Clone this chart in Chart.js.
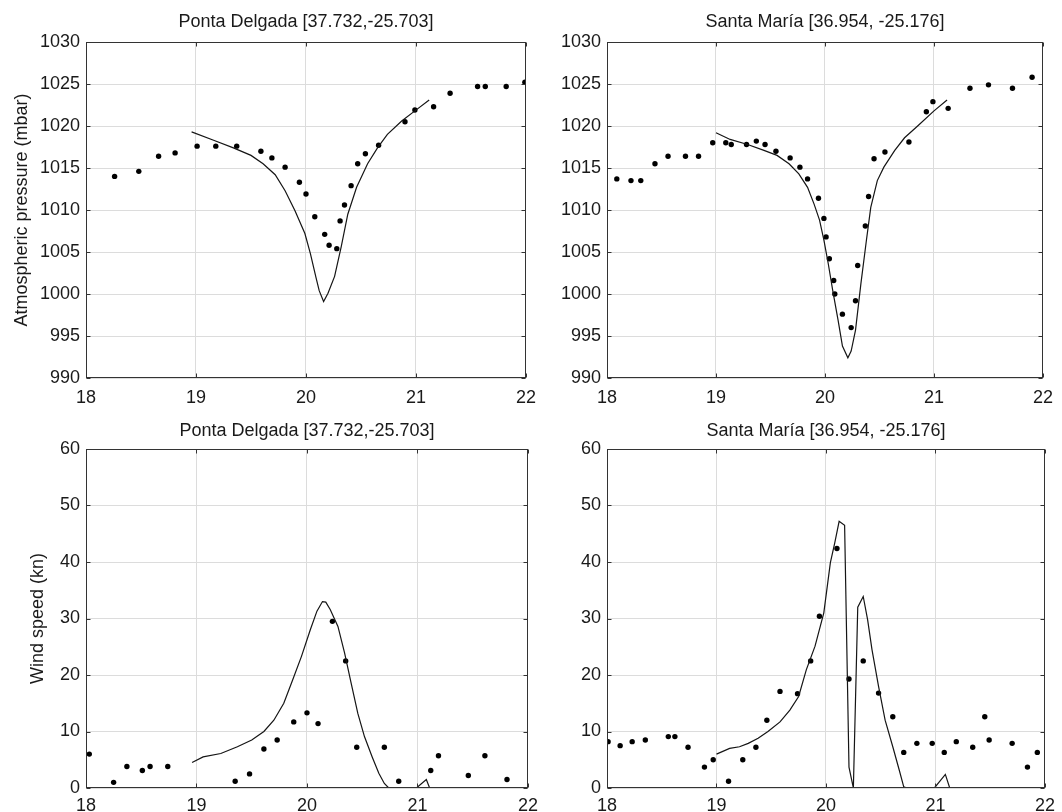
<!DOCTYPE html>
<html>
<head>
<meta charset="utf-8">
<title>Pressure and wind, Ponta Delgada / Santa María</title>
<script src="https://cdn.jsdelivr.net/npm/chart.js@4/dist/chart.umd.min.js"></script>
<style>
  body { margin: 0; background: #fff; }
  #wrap { position: relative; width: 1062px; height: 812px; overflow: hidden; }
  #wrap canvas { position: absolute; }
</style>
</head>
<body>
<div id="wrap">
  <canvas id="pdPress" width="545" height="406" style="left:0;top:0"></canvas>
  <canvas id="smPress" width="531" height="406" style="left:531px;top:0"></canvas>
  <canvas id="pdWind" width="545" height="406" style="left:0;top:406px"></canvas>
  <canvas id="smWind" width="531" height="406" style="left:531px;top:406px"></canvas>
</div>
<script>
// axes
const xTicks = [18, 19, 20, 21, 22];
const pressTicks = [990, 995, 1000, 1005, 1010, 1015, 1020, 1025, 1030];
const windTicks = [0, 10, 20, 30, 40, 50, 60];
const titlePD = 'Ponta Delgada [37.732,-25.703]';
const titleSM = 'Santa María [36.954, -25.176]';
const pressLabel = 'Atmospheric pressure (mbar)';
const windLabel = 'Wind speed (kn)';

// Ponta Delgada pressure: observed (dots) and model (line)
const pdPressObsT = [18.26, 18.48, 18.66, 18.81, 19.01, 19.18, 19.37, 19.59, 19.69, 19.81, 19.94, 20.0, 20.08, 20.17, 20.21, 20.28, 20.31, 20.35, 20.41, 20.47, 20.54, 20.66, 20.9, 20.99, 21.16, 21.31, 21.56, 21.63, 21.82, 21.99];
const pdPressObs = [1014.0, 1014.6, 1016.4, 1016.8, 1017.6, 1017.6, 1017.6, 1017.0, 1016.2, 1015.1, 1013.3, 1011.9, 1009.2, 1007.1, 1005.8, 1005.4, 1008.7, 1010.6, 1012.9, 1015.5, 1016.7, 1017.7, 1020.5, 1021.9, 1022.3, 1023.9, 1024.7, 1024.7, 1024.7, 1025.2];
const pdPressModT = [18.96, 19.16, 19.34, 19.5, 19.61, 19.72, 19.81, 19.9, 19.99, 20.04, 20.09, 20.12, 20.16, 20.2, 20.26, 20.32, 20.38, 20.46, 20.56, 20.65, 20.74, 20.87, 20.99, 21.12];
const pdPressMod = [1019.3, 1018.3, 1017.4, 1016.5, 1015.5, 1014.2, 1012.3, 1009.9, 1007.2, 1004.8, 1002.0, 1000.4, 999.1, 1000.1, 1002.1, 1005.6, 1009.5, 1012.7, 1015.5, 1017.4, 1019.0, 1020.6, 1021.8, 1023.1];

// Santa María pressure
const smPressObsT = [18.09, 18.22, 18.31, 18.44, 18.56, 18.72, 18.84, 18.97, 19.09, 19.14, 19.28, 19.37, 19.45, 19.55, 19.68, 19.77, 19.84, 19.94, 19.99, 20.01, 20.04, 20.08, 20.09, 20.16, 20.24, 20.28, 20.3, 20.37, 20.4, 20.45, 20.55, 20.77, 20.93, 20.99, 21.13, 21.33, 21.5, 21.72, 21.9];
const smPressObs = [1013.7, 1013.5, 1013.5, 1015.5, 1016.4, 1016.4, 1016.4, 1018.0, 1018.0, 1017.8, 1017.8, 1018.2, 1017.8, 1017.0, 1016.2, 1015.1, 1013.7, 1011.4, 1009.0, 1006.8, 1004.2, 1001.6, 1000.0, 997.6, 996.0, 999.2, 1003.4, 1008.1, 1011.6, 1016.1, 1016.9, 1018.1, 1021.7, 1022.9, 1022.1, 1024.5, 1024.9, 1024.5, 1025.8];
const smPressModT = [19.0, 19.13, 19.29, 19.44, 19.56, 19.67, 19.76, 19.84, 19.9, 19.95, 19.99, 20.03, 20.07, 20.12, 20.16, 20.21, 20.24, 20.28, 20.33, 20.38, 20.42, 20.48, 20.54, 20.64, 20.73, 20.85, 21.0, 21.12];
const smPressMod = [1019.2, 1018.4, 1017.8, 1017.1, 1016.5, 1015.5, 1014.3, 1012.7, 1010.7, 1008.8, 1006.4, 1003.6, 1000.5, 996.9, 993.8, 992.4, 993.2, 995.7, 1001.3, 1006.4, 1010.3, 1013.5, 1015.1, 1017.1, 1018.6, 1020.0, 1021.8, 1023.1];

// Ponta Delgada wind
const pdWindObsT = [18.03, 18.25, 18.37, 18.51, 18.58, 18.74, 19.35, 19.48, 19.61, 19.73, 19.88, 20.0, 20.1, 20.23, 20.35, 20.45, 20.7, 20.83, 21.12, 21.19, 21.46, 21.61, 21.81];
const pdWindObs = [6.0, 1.0, 3.8, 3.1, 3.8, 3.8, 1.2, 2.5, 6.9, 8.5, 11.7, 13.3, 11.4, 29.5, 22.5, 7.2, 7.2, 1.2, 3.1, 5.7, 2.2, 5.7, 1.5];
const pdWindModT = [18.96, 19.06, 19.22, 19.37, 19.5, 19.61, 19.7, 19.79, 19.87, 19.95, 20.03, 20.09, 20.14, 20.17, 20.21, 20.28, 20.34, 20.4, 20.46, 20.52, 20.59, 20.65, 20.7, 20.74, 20.99, 21.08, 21.11];
const pdWindMod = [4.5, 5.5, 6.1, 7.3, 8.5, 10.0, 12.0, 15.0, 19.1, 23.3, 28.0, 31.3, 33.0, 32.9, 31.6, 28.6, 23.9, 18.5, 13.2, 9.1, 5.5, 2.6, 0.8, 0, 0, 1.5, 0];

// Santa María wind
const smWindObsT = [18.01, 18.12, 18.23, 18.35, 18.56, 18.62, 18.74, 18.89, 18.97, 19.11, 19.24, 19.36, 19.46, 19.58, 19.74, 19.86, 19.94, 20.1, 20.21, 20.34, 20.48, 20.61, 20.71, 20.83, 20.97, 21.08, 21.19, 21.34, 21.45, 21.49, 21.7, 21.84, 21.93];
const smWindObs = [8.2, 7.5, 8.2, 8.5, 9.1, 9.1, 7.2, 3.7, 5.0, 1.2, 5.0, 7.2, 12.0, 17.1, 16.7, 22.5, 30.4, 42.4, 19.3, 22.5, 16.8, 12.6, 6.3, 7.9, 7.9, 6.3, 8.2, 7.2, 12.6, 8.5, 7.9, 3.7, 6.3];
const smWindModT = [19.0, 19.12, 19.21, 19.29, 19.38, 19.47, 19.58, 19.67, 19.75, 19.82, 19.9, 19.98, 20.04, 20.08, 20.12, 20.17, 20.21, 20.25, 20.29, 20.34, 20.38, 20.42, 20.48, 20.54, 20.61, 20.67, 20.71, 20.74, 20.99, 21.09, 21.13];
const smWindMod = [6.0, 7.0, 7.3, 7.9, 8.8, 10.0, 11.7, 13.8, 16.2, 20.9, 25.1, 31.0, 39.9, 43.4, 47.2, 46.5, 3.7, 0, 32.0, 33.9, 29.8, 24.5, 18.0, 12.0, 7.3, 3.1, 0.2, 0, 0, 2.4, 0];

const FONT = 'Helvetica, Arial, "Liberation Sans", sans-serif';
const TEXT = '#1a1a1a';

function toXY(xs, ys) {
  return xs.map((x, i) => ({ x: x, y: ys[i] }));
}

// closed box round the plot area with small inward tick marks on all sides
const frameBox = {
  id: 'frameBox',
  afterDraw(chart) {
    const { ctx, chartArea: a, scales } = chart;
    const L = Math.round(a.left) + 0.5, R = Math.round(a.right) - 0.5;
    const T = Math.round(a.top) + 0.5, B = Math.round(a.bottom) - 0.5;
    ctx.save();
    ctx.strokeStyle = '#333';
    ctx.lineWidth = 1;
    ctx.strokeRect(L, T, R - L, B - T);
    ctx.beginPath();
    scales.x.ticks.forEach(t => {
      const px = Math.round(scales.x.getPixelForValue(t.value)) + 0.5;
      ctx.moveTo(px, B); ctx.lineTo(px, B - 4);
      ctx.moveTo(px, T); ctx.lineTo(px, T + 4);
    });
    scales.y.ticks.forEach(t => {
      const py = Math.round(scales.y.getPixelForValue(t.value)) + 0.5;
      ctx.moveTo(L, py); ctx.lineTo(L + 4, py);
      ctx.moveTo(R, py); ctx.lineTo(R - 4, py);
    });
    ctx.stroke();
    ctx.restore();
  }
};

// plain numbers, no thousands separator
const plain = v => String(v);

function makePanel(id, p) {
  return new Chart(document.getElementById(id), {
    type: 'scatter',
    data: {
      datasets: [
        {
          data: toXY(p.modT, p.mod),
          showLine: true,
          borderColor: '#151515',
          borderWidth: 1.2,
          pointRadius: 0,
          tension: 0
        },
        {
          data: toXY(p.obsT, p.obs),
          backgroundColor: '#000',
          borderWidth: 0,
          pointRadius: 2.7
        }
      ]
    },
    options: {
      responsive: false,
      animation: false,
      events: [],
      layout: { padding: { left: 0, top: 0, right: p.padRight, bottom: 0 } },
      plugins: {
        legend: { display: false },
        tooltip: { enabled: false },
        title: {
          display: true,
          fullSize: false,
          text: p.title,
          color: TEXT,
          font: { family: FONT, size: 18, weight: 'normal' },
          padding: { top: p.titleTop, bottom: p.titleBottom }
        }
      },
      scales: {
        x: {
          type: 'linear',
          min: 18,
          max: 22,
          afterBuildTicks: s => { s.ticks = xTicks.map(v => ({ value: v })); },
          afterFit: s => { s.height = p.xHeight; },
          grid: { color: '#dcdcdc', lineWidth: 1, drawTicks: false },
          border: { display: false },
          ticks: { padding: p.xPad, color: TEXT, font: { family: FONT, size: 18 }, maxRotation: 0, callback: plain }
        },
        y: {
          type: 'linear',
          min: p.yTicks[0],
          max: p.yTicks[p.yTicks.length - 1],
          afterBuildTicks: s => { s.ticks = p.yTicks.map(v => ({ value: v })); },
          afterFit: s => { s.width = p.yWidth; },
          grid: { color: '#dcdcdc', lineWidth: 1, drawTicks: false },
          border: { display: false },
          ticks: { padding: 6, color: TEXT, font: { family: FONT, size: 18 }, callback: plain },
          title: {
            display: !!p.yLabel,
            text: p.yLabel || '',
            color: TEXT,
            font: { family: FONT, size: 18 },
            padding: { top: p.yLabelPad || 0, bottom: 0 }
          }
        }
      }
    },
    plugins: [frameBox]
  });
}

makePanel('pdPress', {
  title: titlePD, yLabel: pressLabel, yLabelPad: 11, yTicks: pressTicks,
  obsT: pdPressObsT, obs: pdPressObs, modT: pdPressModT, mod: pdPressMod,
  padRight: 17, yWidth: 86, xHeight: 28, xPad: 9, titleTop: 11, titleBottom: 9.4
});
makePanel('smPress', {
  title: titleSM, yTicks: pressTicks,
  obsT: smPressObsT, obs: smPressObs, modT: smPressModT, mod: smPressMod,
  padRight: 13, yWidth: 76, xHeight: 28, xPad: 9, titleTop: 11, titleBottom: 9.4
});
makePanel('pdWind', {
  title: titlePD, yLabel: windLabel, yLabelPad: 27, yTicks: windTicks,
  obsT: pdWindObsT, obs: pdWindObs, modT: pdWindModT, mod: pdWindMod,
  padRight: 17, yWidth: 86, xHeight: 24, xPad: 7, titleTop: 14, titleBottom: 7.4
});
makePanel('smWind', {
  title: titleSM, yTicks: windTicks,
  obsT: smWindObsT, obs: smWindObs, modT: smWindModT, mod: smWindMod,
  padRight: 13, yWidth: 76, xHeight: 24, xPad: 7, titleTop: 14, titleBottom: 7.4
});
</script>
</body>
</html>
